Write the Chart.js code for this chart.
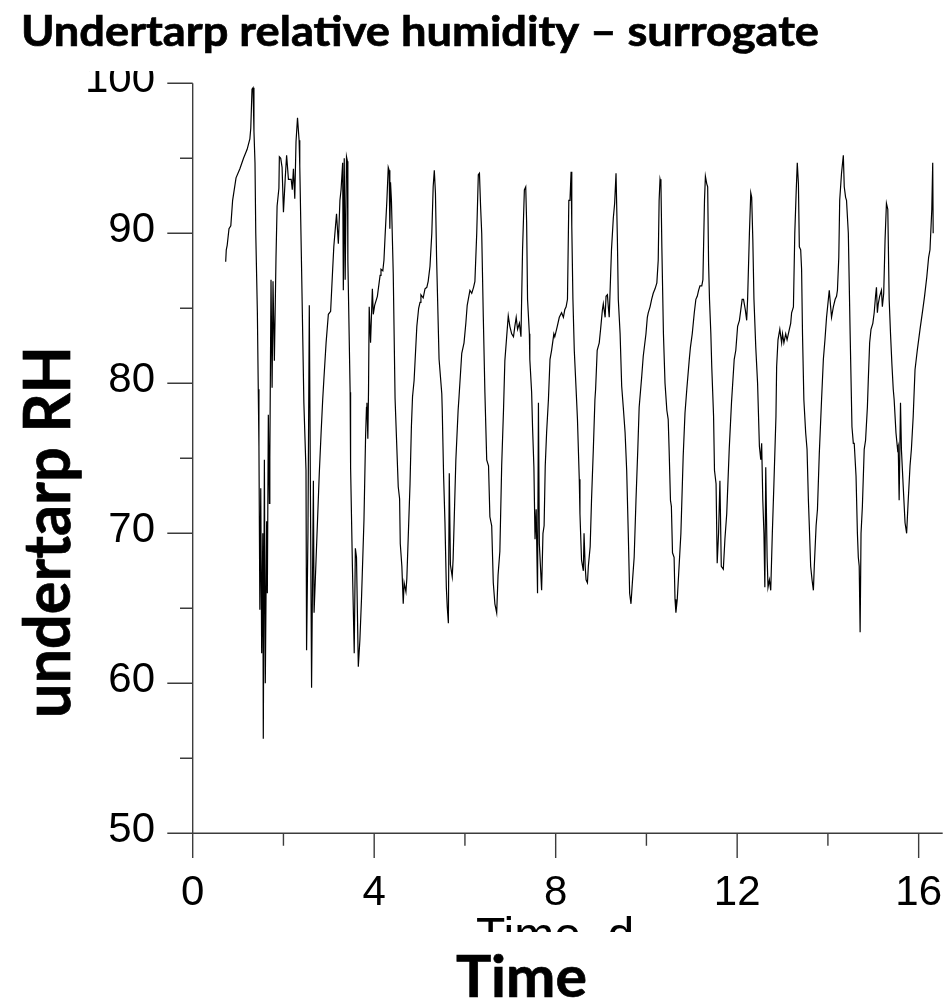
<!DOCTYPE html>
<html>
<head>
<meta charset="utf-8">
<script src="https://cdn.jsdelivr.net/npm/chart.js@4/dist/chart.umd.min.js"></script>
<style>
  body { margin: 0; background: #fff; }
  canvas { display: block; }
</style>
</head>
<body>
<canvas id="rhChart" width="949" height="1007"></canvas>
<script>
// time in days
const times = [
  0.727,0.74,0.76,0.80,0.84,0.88,0.955,1.04,1.12,1.20,1.26,1.28,1.307,1.33,1.35,1.373,1.39,1.425,1.445,1.46,
  1.48,1.50,1.52,1.545,1.556,1.58,1.60,1.63,1.645,1.667,1.69,1.70,1.726,1.75,1.77,1.80,1.836,1.86,1.90,1.91,
  1.94,1.97,2.00,2.04,2.07,2.11,2.17,2.195,2.22,2.25,2.277,2.31,2.345,2.36,2.40,2.45,2.497,2.51,2.54,2.57,
  2.60,2.62,2.66,2.675,2.70,2.79,2.83,2.865,2.89,2.94,2.99,3.04,3.085,3.11,3.17,3.21,3.245,3.27,3.305,3.32,
  3.34,3.36,3.39,3.41,3.42,3.47,3.48,3.52,3.56,3.585,3.61,3.65,3.685,3.72,3.775,3.81,3.83,3.84,3.86,3.875,
  3.89,3.92,3.96,3.98,4.01,4.07,4.13,4.15,4.19,4.215,4.24,4.28,4.31,4.33,4.345,4.36,4.38,4.42,4.46,4.53,
  4.56,4.575,4.61,4.64,4.66,4.70,4.72,4.79,4.82,4.845,4.88,4.94,4.98,5.01,5.03,5.08,5.12,5.16,5.19,5.23,
  5.27,5.30,5.325,5.35,5.375,5.43,5.49,5.50,5.53,5.56,5.59,5.61,5.635,5.655,5.68,5.72,5.74,5.80,5.85,5.87,
  5.93,5.98,6.02,6.05,6.11,6.15,6.19,6.22,6.26,6.295,6.32,6.345,6.37,6.405,6.44,6.48,6.52,6.55,6.59,6.625,
  6.66,6.70,6.73,6.77,6.81,6.85,6.88,6.92,6.955,6.99,7.03,7.07,7.10,7.13,7.16,7.20,7.235,7.27,7.31,7.34,
  7.36,7.38,7.42,7.43,7.47,7.49,7.52,7.545,7.57,7.60,7.62,7.64,7.69,7.72,7.745,7.77,7.80,7.84,7.875,7.91,
  7.96,7.98,8.035,8.08,8.13,8.17,8.20,8.23,8.26,8.29,8.315,8.34,8.355,8.38,8.41,8.45,8.48,8.52,8.535,8.57,
  8.61,8.625,8.65,8.67,8.70,8.72,8.76,8.79,8.83,8.865,8.88,8.915,8.96,8.99,9.03,9.05,9.09,9.11,9.14,9.16,
  9.18,9.23,9.27,9.30,9.33,9.36,9.38,9.42,9.455,9.49,9.53,9.565,9.60,9.63,9.66,9.69,9.73,9.77,9.81,9.84,
  9.895,9.93,9.99,10.02,10.04,10.08,10.115,10.15,10.19,10.23,10.26,10.28,10.30,10.32,10.34,10.375,10.41,10.45,10.48,10.50,
  10.53,10.55,10.575,10.61,10.63,10.65,10.68,10.72,10.76,10.81,10.85,10.89,10.945,10.97,11.01,11.055,11.09,11.12,11.15,11.18,
  11.22,11.245,11.28,11.30,11.33,11.35,11.37,11.39,11.42,11.44,11.48,11.50,11.535,11.56,11.59,11.62,11.65,11.695,11.73,11.77,
  11.825,11.875,11.935,11.97,12.01,12.05,12.08,12.11,12.14,12.18,12.21,12.23,12.27,12.30,12.32,12.345,12.37,12.41,12.45,12.49,
  12.52,12.54,12.565,12.59,12.61,12.63,12.66,12.68,12.71,12.74,12.775,12.81,12.855,12.87,12.90,12.94,12.98,13.00,13.03,13.07,
  13.10,13.15,13.18,13.20,13.24,13.27,13.30,13.325,13.35,13.37,13.40,13.42,13.44,13.47,13.51,13.54,13.57,13.59,13.62,13.65,
  13.68,13.70,13.74,13.77,13.81,13.86,13.90,13.935,13.97,14.01,14.03,14.06,14.08,14.12,14.16,14.19,14.21,14.24,14.26,14.30,
  14.34,14.36,14.39,14.41,14.45,14.49,14.53,14.56,14.58,14.62,14.65,14.67,14.69,14.71,14.73,14.76,14.80,14.83,14.87,14.89,
  14.92,14.95,14.99,15.02,15.05,15.07,15.09,15.11,15.14,15.18,15.20,15.23,15.26,15.29,15.32,15.35,15.38,15.41,15.44,15.46,
  15.50,15.535,15.55,15.57,15.60,15.62,15.66,15.70,15.735,15.77,15.81,15.84,15.88,15.92,15.97,16.03,16.09,16.13,16.18,16.22,
  16.25,16.29,16.31,16.32
];

// undertarp relative humidity, %
const rh = [
  88.1,88.9,89.2,90.3,90.5,92.2,93.7,94.3,95.0,95.6,96.3,97.0,99.6,99.7,96.8,94.7,90.0,84.8,79.6,75.8,
  64.9,73.0,62.0,70.0,56.3,74.9,60.0,70.8,66.0,77.9,72.0,75.0,86.9,79.7,86.8,81.5,88.4,91.8,93.0,95.1,
  95.0,94.4,91.4,93.7,95.2,93.6,93.6,92.9,94.3,92.3,96.1,97.7,96.2,94.5,87.6,78.7,74.2,62.2,70.0,85.2,
  70.0,59.7,73.5,64.7,66.7,74.0,76.7,78.9,80.2,82.7,84.6,84.8,87.6,89.1,91.3,89.3,92.2,92.9,94.7,86.2,
  95.0,86.9,95.1,94.8,88.2,79.4,74.4,67.8,62.0,69.0,68.4,61.1,62.9,65.6,70.9,76.4,78.4,78.7,76.3,79.5,
  85.1,82.7,86.3,84.6,85.2,85.8,87.2,87.6,87.5,88.2,89.8,92.2,94.4,94.2,90.3,93.4,92.2,87.3,79.0,73.1,
  72.3,69.3,67.8,65.3,66.7,66.1,67.0,73.3,77.1,79.1,80.2,83.8,85.0,85.4,85.9,85.7,86.3,86.4,86.8,87.8,
  90.0,93.1,94.2,92.7,88.4,81.6,79.3,78.2,73.8,70.7,66.4,65.1,64.0,74.0,67.9,67.1,68.3,74.9,78.2,79.1,
  82.0,82.7,84.0,85.2,86.2,86.0,86.4,86.8,90.0,93.9,94.0,91.8,90.0,84.4,79.4,74.9,74.5,71.1,70.5,66.7,
  65.3,64.7,67.2,68.8,74.5,78.2,81.5,83.1,84.5,83.8,83.3,83.1,83.8,84.4,83.6,84.0,83.1,88.9,92.9,93.1,
  90.7,85.6,83.3,81.6,79.4,77.1,74.4,69.6,71.6,66.0,78.7,69.3,66.2,70.0,70.5,74.5,76.7,78.9,81.6,82.2,
  83.3,83.1,83.8,84.4,84.7,84.4,84.9,85.1,85.6,92.2,92.2,94.1,90.5,85.6,82.2,79.6,77.6,73.6,71.3,68.2,
  67.5,70.0,67.8,66.9,66.7,67.8,69.1,72.2,75.6,78.9,79.6,82.2,82.7,83.6,84.9,85.3,84.4,85.8,85.9,85.1,
  84.4,88.9,91.0,92.0,94.0,89.6,85.6,83.3,79.8,78.4,76.7,74.2,70.0,66.0,65.3,66.7,68.4,72.2,75.6,78.4,
  80.4,81.8,83.3,84.4,84.7,85.1,85.6,86.0,86.3,86.7,88.2,92.2,93.6,93.3,89.1,83.3,80.0,78.2,77.6,75.6,
  72.2,71.8,68.7,68.4,65.6,64.7,65.6,67.8,70.0,75.1,78.0,79.6,81.6,82.4,83.3,84.7,85.6,85.8,86.2,86.5,
  86.5,86.9,92.2,93.8,93.3,93.1,88.0,85.6,83.3,81.1,77.8,74.2,73.3,68.0,70.0,73.5,67.8,67.6,69.6,71.3,
  75.6,78.7,81.6,82.2,83.8,84.2,84.9,85.6,85.6,84.9,84.2,85.6,90.0,92.7,92.4,89.6,85.6,82.4,80.0,75.8,
  74.9,76.0,72.2,70.0,66.4,74.4,68.4,66.4,66.9,66.2,70.0,73.3,77.8,81.1,82.9,83.6,82.7,83.3,82.7,83.3,
  82.9,83.6,84.0,84.7,85.1,90.0,92.7,94.7,93.3,89.1,88.9,87.6,83.3,78.9,76.7,75.6,72.2,70.5,67.8,66.9,
  66.2,67.8,70.5,71.6,75.3,78.9,81.6,82.9,84.4,85.6,86.2,85.1,84.4,85.1,85.6,85.8,86.2,88.4,92.2,94.0,
  95.2,93.1,92.4,92.2,90.0,83.3,77.1,76.0,76.0,73.8,70.0,68.4,67.8,63.4,70.0,71.8,75.6,76.2,78.4,80.2,
  82.7,83.6,84.0,84.7,85.8,86.4,84.7,85.3,85.8,86.2,85.1,86.0,89.6,92.0,91.6,85.6,83.3,81.3,79.6,78.9,
  76.7,75.6,75.8,72.2,78.7,75.6,73.1,70.7,70.0,72.2,74.5,75.6,77.8,80.9,82.2,83.6,84.9,85.8,87.1,88.4,
  88.9,91.6,94.7,90.0
];

const xMajorTicks = [0, 4, 8, 12, 16];
const xMinorTicks = [2, 6, 10, 14];
const yMajorTicks = [50, 60, 70, 80, 90, 100];
const yMinorTicks = [55, 65, 75, 85, 95];

const titleText = 'Undertarp relative humidity \u2013 surrogate';
const yTitle = 'undertarp RH';
const xTitle = 'Time';
const xSubTitle = 'Time, d';

// draw bold text squeezed to a given width (Calibri-like proportions)
function fitText(ctx, text, x, y, width, font, align) {
    ctx.font = font;
    const w = ctx.measureText(text).width;
    ctx.save();
    ctx.translate(x, y);
    ctx.scale(width / w, 1);
    ctx.textAlign = 'left';
    ctx.lineWidth = 0.7;
    ctx.strokeStyle = '#000';
    const x0 = align === 'center' ? -w / 2 : 0;
    ctx.fillText(text, x0, 0);
    ctx.strokeText(text, x0, 0);
    ctx.restore();
}

const axesPlugin = {
    id: 'axesPlugin',
    afterDraw(chart) {
        const ctx = chart.ctx;
        const xs = chart.scales.x;
        const ys = chart.scales.y;
        const area = chart.chartArea;

        ctx.save();
        ctx.strokeStyle = '#3c3c3c';
        ctx.lineWidth = 1.4;
        ctx.beginPath();
        // y axis
        ctx.moveTo(area.left, ys.getPixelForValue(100));
        ctx.lineTo(area.left, area.bottom);
        // x axis, runs a bit left of the y axis
        ctx.moveTo(area.left - 25.4, area.bottom);
        ctx.lineTo(area.right, area.bottom);
        yMajorTicks.forEach(v => {
            const y = ys.getPixelForValue(v);
            ctx.moveTo(area.left - 25.4, y);
            ctx.lineTo(area.left, y);
        });
        yMinorTicks.forEach(v => {
            const y = ys.getPixelForValue(v);
            ctx.moveTo(area.left - 12.7, y);
            ctx.lineTo(area.left, y);
        });
        xMajorTicks.forEach(v => {
            const x = xs.getPixelForValue(v);
            ctx.moveTo(x, area.bottom);
            ctx.lineTo(x, area.bottom + 24.7);
        });
        xMinorTicks.forEach(v => {
            const x = xs.getPixelForValue(v);
            ctx.moveTo(x, area.bottom);
            ctx.lineTo(x, area.bottom + 12.5);
        });
        ctx.stroke();

        ctx.fillStyle = '#000';
        ctx.font = '42px "Liberation Sans", Arial, sans-serif';
        ctx.textBaseline = 'alphabetic';

        // y tick labels (top one is cut off in the original)
        ctx.save();
        ctx.beginPath();
        ctx.rect(0, 71, area.left - 20, area.bottom);
        ctx.clip();
        ctx.textAlign = 'right';
        yMajorTicks.forEach(v => {
            ctx.fillText(String(v), 155, ys.getPixelForValue(v) + 8.7);
        });
        ctx.restore();

        ctx.textAlign = 'center';
        xMajorTicks.forEach(v => {
            ctx.fillText(String(v), xs.getPixelForValue(v), 905);
        });

        // original axis title, mostly hidden
        ctx.save();
        ctx.beginPath();
        ctx.rect(0, 900, chart.width, 32);
        ctx.clip();
        ctx.font = '48px "Liberation Sans", Arial, sans-serif';
        ctx.textAlign = 'left';
        ctx.fillText(xSubTitle, 476, 951);
        ctx.restore();

        // bold titles
        fitText(ctx, titleText, 21, 46, 798, 'bold 42px Lato, "Open Sans", sans-serif');
        fitText(ctx, xTitle, 456, 997, 131, 'bold 58px Lato, "Open Sans", sans-serif');
        ctx.save();
        ctx.translate(70, 532);
        ctx.rotate(-Math.PI / 2);
        fitText(ctx, yTitle, 0, 0, 372, 'bold 65px Lato, "Open Sans", sans-serif', 'center');
        ctx.restore();

        ctx.restore();
    }
};

const points = times.map((t, i) => ({ x: t, y: rh[i] }));

new Chart(document.getElementById('rhChart'), {
    type: 'line',
    data: {
        datasets: [{
            data: points,
            borderColor: '#000',
            borderWidth: 1.2,
            pointRadius: 0,
            tension: 0,
            fill: false
        }]
    },
    options: {
        responsive: false,
        animation: false,
        devicePixelRatio: 1,
        layout: {
            padding: { left: 192.7, right: 6.3, top: 83.3, bottom: 173.7 }
        },
        plugins: {
            legend: { display: false },
            tooltip: { enabled: false }
        },
        scales: {
            x: { type: 'linear', min: 0, max: 16.53, display: false },
            y: { type: 'linear', min: 50, max: 100, display: false }
        }
    },
    plugins: [axesPlugin]
});
</script>
</body>
</html>
